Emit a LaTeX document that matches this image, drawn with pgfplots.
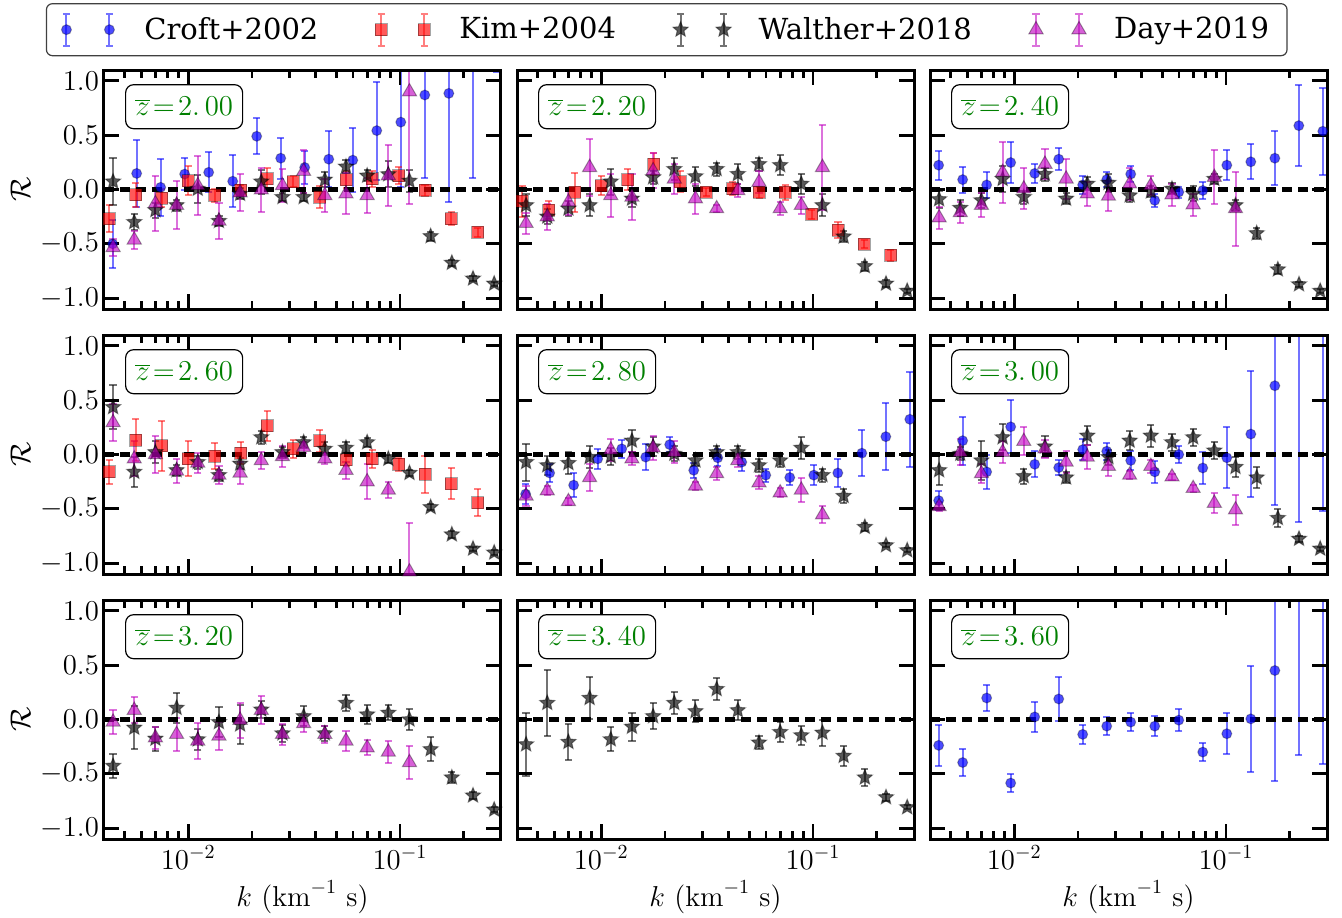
\documentclass[border=0pt]{standalone}
\usepackage[no-math]{fontspec}
\setmainfont{DejaVu Serif}
\usepackage{pgfplots}
\pgfplotsset{compat=1.18}
\usepgfplotslibrary{groupplots}
\usetikzlibrary{plotmarks}

\definecolor{zgreen}{RGB}{0,128,0}
\definecolor{mmag}{RGB}{191,0,191}

% filled five-pointed star
\pgfdeclareplotmark{fstar}{%
  \pgfpathmoveto{\pgfpointpolar{90}{\pgfplotmarksize}}%
  \pgfpathlineto{\pgfpointpolar{126}{0.45\pgfplotmarksize}}%
  \pgfpathlineto{\pgfpointpolar{162}{\pgfplotmarksize}}%
  \pgfpathlineto{\pgfpointpolar{198}{0.45\pgfplotmarksize}}%
  \pgfpathlineto{\pgfpointpolar{234}{\pgfplotmarksize}}%
  \pgfpathlineto{\pgfpointpolar{270}{0.45\pgfplotmarksize}}%
  \pgfpathlineto{\pgfpointpolar{306}{\pgfplotmarksize}}%
  \pgfpathlineto{\pgfpointpolar{342}{0.45\pgfplotmarksize}}%
  \pgfpathlineto{\pgfpointpolar{18}{\pgfplotmarksize}}%
  \pgfpathlineto{\pgfpointpolar{54}{0.45\pgfplotmarksize}}%
  \pgfpathclose
  \pgfusepathqfillstroke
}

% two capped error bars used by the legend symbols (with room before the text)
\newcommand\legbars[1]{%
  \path[draw=none, fill=none] (0pt,0pt) rectangle (40pt,0.1pt);
  \draw[#1, line width=1pt]
    (3pt,-8pt) -- (3pt,8pt) (1.2pt,-8pt) -- (4.8pt,-8pt) (1.2pt,8pt) -- (4.8pt,8pt)
    (24.5pt,-8pt) -- (24.5pt,8pt) (22.7pt,-8pt) -- (26.3pt,-8pt) (22.7pt,8pt) -- (26.3pt,8pt);}

\pgfplotsset{
  errbase/.style={only marks,
    error bars/y dir=both, error bars/y explicit, error bars/error mark=-},
  croftmk/.style={mark=*, mark size=2.5pt,
    mark options={fill=blue, fill opacity=0.7, draw=black, draw opacity=0.3, line width=0.5pt}},
  kimmk/.style={mark=square*, mark size=3pt,
    mark options={fill=red, fill opacity=0.65, draw=black, draw opacity=0.35, line width=0.5pt}},
  walmk/.style={mark=fstar, mark size=4pt,
    mark options={fill=black, fill opacity=0.65, draw=black, draw opacity=0.4, line width=0.5pt}},
  daymk/.style={mark=triangle*, mark size=4.1pt,
    mark options={fill=mmag, fill opacity=0.62, draw=black, draw opacity=0.35, line width=0.5pt}},
  croft/.style={errbase, croftmk,
    error bars/error bar style={draw=blue, draw opacity=0.55, line width=1pt},
    error bars/error mark options={draw=blue, draw opacity=0.55, line width=1pt, mark size=1.8pt, rotate=90},
    legend image code/.code={\legbars{blue, draw opacity=0.55}
      \draw plot[only marks, mark=*, mark size=2.5pt,
        mark options={fill=blue, fill opacity=0.7, draw=black, draw opacity=0.3, line width=0.5pt}]
        coordinates {(3pt,0pt) (24.5pt,0pt)};}},
  kim/.style={errbase, kimmk,
    error bars/error bar style={draw=red, draw opacity=0.5, line width=1pt},
    error bars/error mark options={draw=red, draw opacity=0.5, line width=1pt, mark size=1.8pt, rotate=90},
    legend image code/.code={\legbars{red, draw opacity=0.5}
      \draw plot[only marks, mark=square*, mark size=3pt,
        mark options={fill=red, fill opacity=0.65, draw=black, draw opacity=0.35, line width=0.5pt}]
        coordinates {(3pt,0pt) (24.5pt,0pt)};}},
  walther/.style={errbase, walmk,
    error bars/error bar style={draw=black, draw opacity=0.55, line width=1pt},
    error bars/error mark options={draw=black, draw opacity=0.55, line width=1pt, mark size=1.8pt, rotate=90},
    legend image code/.code={\legbars{black, draw opacity=0.55}
      \draw plot[only marks, mark=fstar, mark size=4pt,
        mark options={fill=black, fill opacity=0.65, draw=black, draw opacity=0.4, line width=0.5pt}]
        coordinates {(3pt,0pt) (24.5pt,0pt)};}},
  day/.style={errbase, daymk,
    error bars/error bar style={draw=mmag, draw opacity=0.55, line width=1pt},
    error bars/error mark options={draw=mmag, draw opacity=0.55, line width=1pt, mark size=1.8pt, rotate=90},
    legend image code/.code={\legbars{mmag, draw opacity=0.55}
      \draw plot[only marks, mark=triangle*, mark size=4.1pt,
        mark options={fill=mmag, fill opacity=0.62, draw=black, draw opacity=0.35, line width=0.5pt}]
        coordinates {(3pt,0pt) (24.5pt,0pt)};}},
}

\newcommand\zeroline{\addplot[black, line width=2.2pt, dash pattern=on 5pt off 3pt, forget plot]
  coordinates {(0.004,0) (0.3,0)};}
\newcommand\zlab[1]{\node[draw=black, line width=0.6pt, rounded corners=4pt, fill=white,
  text=zgreen, anchor=north west, minimum width=58.5pt, minimum height=22pt, inner sep=0pt,
  font=\fontsize{14.5}{16}\selectfont] at (axis description cs:0.053,0.941)
  {$\overline{z}\!=\!#1$};}

\begin{document}
\begin{tikzpicture}
\begin{groupplot}[
  group style={group size=3 by 3, horizontal sep=8pt, vertical sep=13pt,
    xticklabels at=edge bottom, yticklabels at=edge left,
    xlabels at=edge bottom, ylabels at=edge left},
  scale only axis, width=198.5pt, height=119.5pt,
  xmode=log, xmin=0.004, xmax=0.3, ymin=-1.1, ymax=1.1,
  xtick={0.01,0.1},
  minor xtick={0.004,0.005,0.006,0.007,0.008,0.009,0.02,0.03,0.04,0.05,0.06,0.07,0.08,0.09,0.2,0.3},
  ytick={-1,-0.5,0,0.5,1},
  yticklabels={$-1.0$,$-0.5$,$0.0$,$0.5$,$1.0$},
  axis on top, axis line style={line width=1.5pt},
  tick align=inside, major tick length=7.5pt, minor tick length=4pt,
  every tick/.style={black, line width=1.4pt},
  yticklabel style={font=\fontsize{14}{14}\selectfont, xshift=1pt},
  xticklabel style={font=\fontsize{14}{14}\selectfont},
  xlabel={$k\ (\mathrm{km}^{-1}\ \mathrm{s})$},
  ylabel={$\mathcal{R}$},
  xlabel style={font=\fontsize{14.5}{16}\selectfont, at={(axis description cs:0.5,-0.243)}, anchor=center},
  ylabel style={font=\fontsize{15}{15}\selectfont, inner sep=1pt, at={(axis description cs:-0.21,0.5)}, anchor=center},
]
% ---------------- z = 2.0 ----------------
\nextgroupplot[legend columns=4,
  legend style={at={(axis description cs:1.4175,1.28)}, anchor=north,
    draw=black!75, line width=0.6pt, rounded corners=3pt, fill=white,
    inner xsep=7pt, inner ysep=4.5pt,
    font=\fontsize{14.5}{16}\selectfont,
    /tikz/every even column/.append style={column sep=26.5pt}},
  legend cell align=left]
\coordinate (tl) at (rel axis cs:0,1);
\addplot[croft] table[row sep=\\, x=k, y=r, y error=e] {
k r e\\
0.004395 -0.50 0.22\\
0.005706 0.148 0.31\\
0.007408 0.02 0.26\\
0.009620 0.142 0.15\\
0.01249 0.158 0.185\\
0.01622 0.076 0.24\\
0.02105 0.49 0.165\\
0.02734 0.288 0.19\\
0.03549 0.203 0.15\\
0.04609 0.279 0.255\\
0.05984 0.27 0.295\\
0.07770 0.542 0.45\\
0.1009 0.62 0.6\\
0.1310 0.87 0.76\\
0.1701 0.885 1.0\\
0.2208 1.35 1.24\\
0.2867 1.55 0.47\\
};
\addplot[kim] table[row sep=\\, x=k, y=r, y error=e] {
k r e\\
0.004236 -0.267 0.12\\
0.005639 -0.048 0.11\\
0.007508 -0.079 0.08\\
0.01000 0.082 0.13\\
0.01331 -0.055 0.06\\
0.01772 -0.009 0.05\\
0.02359 0.097 0.10\\
0.03141 0.073 0.05\\
0.04182 -0.07 0.10\\
0.05568 0.091 0.08\\
0.07413 0.097 0.07\\
0.09870 0.127 0.08\\
0.1314 -0.009 0.05\\
0.1750 -0.267 0.06\\
0.2329 -0.394 0.04\\
};
\addplot[walther] table[row sep=\\, x=k, y=r, y error=e] {
k r e\\
0.004416 0.073 0.215\\
0.005559 -0.30 0.07\\
0.006998 -0.19 0.07\\
0.008810 -0.145 0.05\\
0.01109 0.006 0.13\\
0.01396 -0.29 0.05\\
0.01758 -0.04 0.05\\
0.02213 0.073 0.11\\
0.02786 -0.07 0.04\\
0.03508 -0.07 0.04\\
0.04416 0.09 0.07\\
0.05559 0.21 0.06\\
0.06998 0.127 0.05\\
0.08810 0.14 0.12\\
0.1109 0.08 0.10\\
0.1396 -0.43 0.04\\
0.1758 -0.675 0.03\\
0.2213 -0.82 0.02\\
0.2786 -0.867 0.02\\
};
\addplot[day] table[row sep=\\, x=k, y=r, y error=e] {
k r e\\
0.004416 -0.533 0.08\\
0.005559 -0.464 0.08\\
0.006998 -0.13 0.25\\
0.008810 -0.145 0.22\\
0.01109 0.036 0.27\\
0.01396 -0.29 0.17\\
0.01758 -0.03 0.17\\
0.02213 -0.003 0.20\\
0.02786 0.036 0.15\\
0.03508 0.167 0.20\\
0.04416 -0.055 0.15\\
0.05559 -0.04 0.19\\
0.06998 -0.055 0.16\\
0.08810 0.127 0.28\\
0.1109 0.90 1.03\\
};
\zeroline
\zlab{2.\,00}
\legend{Croft+2002, Kim+2004, Walther+2018, Day+2019}
% ---------------- z = 2.2 ----------------
\nextgroupplot
\addplot[kim] table[row sep=\\, x=k, y=r, y error=e] {
k r e\\
0.004236 -0.109 0.14\\
0.005639 -0.19 0.08\\
0.007508 -0.024 0.18\\
0.01000 0.036 0.09\\
0.01331 0.091 0.10\\
0.01772 0.233 0.10\\
0.02359 0.073 0.10\\
0.03141 -0.024 0.04\\
0.04182 0.006 0.06\\
0.05568 -0.024 0.05\\
0.07413 -0.024 0.07\\
0.09870 -0.23 0.04\\
0.1314 -0.373 0.07\\
0.1750 -0.503 0.04\\
0.2329 -0.606 0.05\\
};
\addplot[walther] table[row sep=\\, x=k, y=r, y error=e] {
k r e\\
0.004416 -0.145 0.10\\
0.005559 -0.25 0.07\\
0.006998 -0.176 0.07\\
0.008810 -0.145 0.10\\
0.01109 0.073 0.12\\
0.01396 -0.085 0.08\\
0.01758 0.112 0.06\\
0.02213 0.188 0.10\\
0.02786 0.121 0.09\\
0.03508 0.188 0.06\\
0.04416 0.142 0.09\\
0.05559 0.233 0.06\\
0.06998 0.224 0.09\\
0.08810 0.052 0.09\\
0.1109 -0.145 0.10\\
0.1396 -0.433 0.05\\
0.1758 -0.706 0.04\\
0.2213 -0.867 0.03\\
0.2786 -0.933 0.02\\
};
\addplot[day] table[row sep=\\, x=k, y=r, y error=e] {
k r e\\
0.004416 -0.312 0.10\\
0.005559 -0.25 0.12\\
0.006998 -0.115 0.12\\
0.008810 0.203 0.26\\
0.01109 -0.055 0.20\\
0.01396 -0.07 0.21\\
0.01758 0.173 0.16\\
0.02213 0.097 0.14\\
0.02786 -0.085 0.14\\
0.03508 -0.176 0.03\\
0.04416 -0.009 0.06\\
0.05559 0.067 0.10\\
0.06998 -0.176 0.06\\
0.08810 -0.145 0.08\\
0.1109 0.203 0.39\\
};
\zeroline
\zlab{2.\,20}
% ---------------- z = 2.4 ----------------
\nextgroupplot
\addplot[croft] table[row sep=\\, x=k, y=r, y error=e] {
k r e\\
0.004395 0.224 0.135\\
0.005706 0.091 0.12\\
0.007408 0.042 0.12\\
0.009620 0.248 0.19\\
0.01249 0.148 0.09\\
0.01622 0.279 0.10\\
0.02105 0.042 0.08\\
0.02734 0.091 0.07\\
0.03549 0.142 0.07\\
0.04609 -0.10 0.06\\
0.05984 -0.024 0.05\\
0.07770 -0.009 0.08\\
0.1009 0.224 0.14\\
0.1310 0.255 0.16\\
0.1701 0.288 0.25\\
0.2208 0.588 0.37\\
0.2867 0.536 0.40\\
};
\addplot[walther] table[row sep=\\, x=k, y=r, y error=e] {
k r e\\
0.004416 -0.09 0.08\\
0.005559 -0.17 0.07\\
0.006998 -0.10 0.07\\
0.008810 0.097 0.12\\
0.01109 -0.07 0.06\\
0.01396 0.142 0.06\\
0.01758 -0.085 0.05\\
0.02213 0.052 0.06\\
0.02786 0.061 0.08\\
0.03508 -0.055 0.06\\
0.04416 -0.018 0.05\\
0.05559 0.006 0.05\\
0.06998 -0.04 0.07\\
0.08810 0.097 0.05\\
0.1109 -0.145 0.05\\
0.1396 -0.403 0.05\\
0.1758 -0.736 0.04\\
0.2213 -0.873 0.02\\
0.2786 -0.933 0.02\\
};
\addplot[day] table[row sep=\\, x=k, y=r, y error=e] {
k r e\\
0.004416 -0.26 0.10\\
0.005559 -0.212 0.10\\
0.006998 -0.145 0.11\\
0.008810 0.158 0.28\\
0.01109 0.006 0.19\\
0.01396 0.233 0.14\\
0.01758 0.097 0.18\\
0.02213 -0.04 0.11\\
0.02786 -0.061 0.14\\
0.03508 0.052 0.15\\
0.04416 0.036 0.09\\
0.05559 -0.048 0.10\\
0.06998 -0.14 0.10\\
0.08810 0.112 0.25\\
0.1109 -0.176 0.34\\
};
\zeroline
\zlab{2.\,40}
% ---------------- z = 2.6 ----------------
\nextgroupplot
\addplot[kim] table[row sep=\\, x=k, y=r, y error=e] {
k r e\\
0.004236 -0.16 0.11\\
0.005639 0.133 0.19\\
0.007508 0.082 0.23\\
0.01000 -0.04 0.16\\
0.01331 -0.018 0.12\\
0.01772 0.012 0.10\\
0.02359 0.264 0.14\\
0.03141 0.052 0.08\\
0.04182 0.127 0.10\\
0.05568 -0.048 0.06\\
0.07413 -0.04 0.08\\
0.09870 -0.09 0.06\\
0.1314 -0.18 0.17\\
0.1750 -0.267 0.14\\
0.2329 -0.442 0.12\\
};
\addplot[walther] table[row sep=\\, x=k, y=r, y error=e] {
k r e\\
0.004416 0.436 0.20\\
0.005559 -0.16 0.14\\
0.006998 0.021 0.10\\
0.008810 -0.145 0.05\\
0.01109 -0.07 0.06\\
0.01396 -0.19 0.05\\
0.01758 -0.085 0.05\\
0.02213 0.158 0.06\\
0.02786 0.021 0.05\\
0.03508 0.112 0.05\\
0.04416 0.052 0.06\\
0.05559 0.061 0.05\\
0.06998 0.112 0.04\\
0.08810 -0.04 0.04\\
0.1109 -0.17 0.03\\
0.1396 -0.485 0.03\\
0.1758 -0.736 0.03\\
0.2213 -0.867 0.02\\
0.2786 -0.903 0.02\\
};
\addplot[day] table[row sep=\\, x=k, y=r, y error=e] {
k r e\\
0.004416 0.294 0.17\\
0.005559 -0.04 0.16\\
0.006998 0.0 0.17\\
0.008810 -0.152 0.11\\
0.01109 -0.079 0.09\\
0.01396 -0.19 0.08\\
0.01758 -0.17 0.10\\
0.02213 -0.055 0.08\\
0.02786 -0.018 0.10\\
0.03508 0.067 0.05\\
0.04416 -0.04 0.05\\
0.05559 -0.145 0.08\\
0.06998 -0.25 0.16\\
0.08810 -0.327 0.07\\
0.1109 -1.08 0.45\\
};
\zeroline
\zlab{2.\,60}
% ---------------- z = 2.8 ----------------
\nextgroupplot
\addplot[croft] table[row sep=\\, x=k, y=r, y error=e] {
k r e\\
0.004395 -0.364 0.09\\
0.005706 -0.17 0.08\\
0.007408 -0.282 0.11\\
0.009620 -0.04 0.09\\
0.01249 0.052 0.08\\
0.01622 -0.024 0.12\\
0.02105 0.091 0.07\\
0.02734 -0.145 0.07\\
0.03549 -0.03 0.08\\
0.04609 -0.07 0.08\\
0.05984 -0.19 0.06\\
0.07770 -0.212 0.07\\
0.1009 -0.19 0.09\\
0.1310 -0.17 0.13\\
0.1701 0.012 0.21\\
0.2208 0.164 0.31\\
0.2867 0.324 0.44\\
};
\addplot[walther] table[row sep=\\, x=k, y=r, y error=e] {
k r e\\
0.004416 -0.07 0.17\\
0.005559 -0.10 0.09\\
0.006998 -0.079 0.10\\
0.008810 -0.024 0.10\\
0.01109 -0.018 0.08\\
0.01396 0.127 0.10\\
0.01758 0.073 0.09\\
0.02213 0.006 0.07\\
0.02786 -0.055 0.05\\
0.03508 0.021 0.06\\
0.04416 0.021 0.06\\
0.05559 -0.10 0.06\\
0.06998 -0.055 0.06\\
0.08810 0.061 0.10\\
0.1109 -0.19 0.06\\
0.1396 -0.382 0.06\\
0.1758 -0.667 0.04\\
0.2213 -0.836 0.02\\
0.2786 -0.882 0.02\\
};
\addplot[day] table[row sep=\\, x=k, y=r, y error=e] {
k r e\\
0.004416 -0.382 0.09\\
0.005559 -0.333 0.04\\
0.006998 -0.433 0.03\\
0.008810 -0.212 0.12\\
0.01109 0.042 0.10\\
0.01396 -0.04 0.06\\
0.01758 0.061 0.11\\
0.02213 0.021 0.10\\
0.02786 -0.29 0.04\\
0.03508 -0.176 0.06\\
0.04416 -0.055 0.06\\
0.05559 -0.26 0.06\\
0.06998 -0.352 0.04\\
0.08810 -0.327 0.11\\
0.1109 -0.555 0.08\\
};
\zeroline
\zlab{2.\,80}
% ---------------- z = 3.0 ----------------
\nextgroupplot
\addplot[croft] table[row sep=\\, x=k, y=r, y error=e] {
k r e\\
0.004395 -0.424 0.09\\
0.005706 0.127 0.22\\
0.007408 -0.16 0.16\\
0.009620 0.255 0.245\\
0.01249 -0.09 0.12\\
0.01622 -0.121 0.07\\
0.02105 0.045 0.10\\
0.02734 0.03 0.08\\
0.03549 -0.055 0.09\\
0.04609 -0.16 0.10\\
0.05984 0.0 0.08\\
0.07770 -0.124 0.15\\
0.1009 -0.03 0.28\\
0.1310 0.188 0.58\\
0.1701 0.633 1.10\\
0.2208 1.40 2.02\\
0.2867 1.30 1.82\\
};
\addplot[walther] table[row sep=\\, x=k, y=r, y error=e] {
k r e\\
0.004416 -0.145 0.14\\
0.005559 0.006 0.06\\
0.006998 -0.055 0.18\\
0.008810 0.158 0.12\\
0.01109 -0.20 0.07\\
0.01396 0.073 0.10\\
0.01758 -0.212 0.05\\
0.02213 0.173 0.09\\
0.02786 -0.024 0.07\\
0.03508 0.127 0.09\\
0.04416 0.173 0.10\\
0.05559 0.112 0.08\\
0.06998 0.158 0.08\\
0.08810 0.036 0.08\\
0.1109 -0.115 0.09\\
0.1396 -0.212 0.10\\
0.1758 -0.585 0.08\\
0.2213 -0.776 0.03\\
0.2786 -0.867 0.02\\
};
\addplot[day] table[row sep=\\, x=k, y=r, y error=e] {
k r e\\
0.004416 -0.479 0.04\\
0.005559 0.021 0.12\\
0.006998 -0.176 0.09\\
0.008810 0.021 0.10\\
0.01109 0.121 0.13\\
0.01396 0.052 0.08\\
0.01758 -0.07 0.10\\
0.02213 -0.024 0.11\\
0.02786 -0.109 0.09\\
0.03508 -0.19 0.04\\
0.04416 -0.109 0.06\\
0.05559 -0.206 0.03\\
0.06998 -0.312 0.03\\
0.08810 -0.448 0.09\\
0.1109 -0.509 0.14\\
};
\zeroline
\zlab{3.\,00}
% ---------------- z = 3.2 ----------------
\nextgroupplot
\addplot[walther] table[row sep=\\, x=k, y=r, y error=e] {
k r e\\
0.004416 -0.427 0.11\\
0.005559 -0.076 0.20\\
0.006998 -0.177 0.11\\
0.008810 0.107 0.14\\
0.01109 -0.183 0.10\\
0.01396 -0.024 0.14\\
0.01758 -0.046 0.18\\
0.02213 0.091 0.08\\
0.02786 -0.128 0.08\\
0.03508 0.03 0.09\\
0.04416 -0.128 0.07\\
0.05559 0.152 0.07\\
0.06998 0.046 0.09\\
0.08810 0.061 0.07\\
0.1109 0.0 0.10\\
0.1396 -0.274 0.11\\
0.1758 -0.534 0.05\\
0.2213 -0.70 0.03\\
0.2786 -0.83 0.02\\
};
\addplot[day] table[row sep=\\, x=k, y=r, y error=e] {
k r e\\
0.004416 -0.024 0.11\\
0.005559 0.085 0.12\\
0.006998 -0.168 0.10\\
0.008810 -0.137 0.15\\
0.01109 -0.198 0.17\\
0.01396 -0.152 0.13\\
0.01758 -0.006 0.16\\
0.02213 0.085 0.13\\
0.02786 -0.137 0.10\\
0.03508 -0.037 0.08\\
0.04416 -0.137 0.08\\
0.05559 -0.198 0.09\\
0.06998 -0.26 0.07\\
0.08810 -0.30 0.10\\
0.1109 -0.396 0.155\\
};
\zeroline
\zlab{3.\,20}
% ---------------- z = 3.4 ----------------
\nextgroupplot
\addplot[walther] table[row sep=\\, x=k, y=r, y error=e] {
k r e\\
0.004416 -0.229 0.29\\
0.005559 0.152 0.30\\
0.006998 -0.207 0.17\\
0.008810 0.198 0.19\\
0.01109 -0.183 0.11\\
0.01396 -0.067 0.13\\
0.01758 0.03 0.12\\
0.02213 0.152 0.10\\
0.02786 0.076 0.10\\
0.03508 0.28 0.10\\
0.04416 0.085 0.09\\
0.05559 -0.213 0.06\\
0.06998 -0.116 0.09\\
0.08810 -0.146 0.09\\
0.1109 -0.122 0.12\\
0.1396 -0.335 0.09\\
0.1758 -0.534 0.075\\
0.2213 -0.716 0.03\\
0.2786 -0.808 0.02\\
};
\zeroline
\zlab{3.\,40}
% ---------------- z = 3.6 ----------------
\nextgroupplot
\coordinate (br) at (rel axis cs:1,0);
\addplot[croft] table[row sep=\\, x=k, y=r, y error=e] {
k r e\\
0.004395 -0.238 0.19\\
0.005706 -0.396 0.12\\
0.007408 0.198 0.12\\
0.009620 -0.585 0.08\\
0.01249 0.024 0.135\\
0.01622 0.189 0.20\\
0.02105 -0.137 0.09\\
0.02734 -0.061 0.08\\
0.03549 -0.024 0.08\\
0.04609 -0.061 0.09\\
0.05984 -0.006 0.10\\
0.07770 -0.30 0.08\\
0.1009 -0.131 0.19\\
0.1310 0.006 0.49\\
0.1701 0.451 1.02\\
0.2208 1.30 1.63\\
0.2867 1.30 1.71\\
};
\zeroline
\zlab{3.\,60}
\end{groupplot}
\pgfresetboundingbox
\path[use as bounding box] ([xshift=-52pt,yshift=35pt]tl) rectangle ([xshift=7.5pt,yshift=-39.5pt]br);
\end{tikzpicture}
\end{document}
